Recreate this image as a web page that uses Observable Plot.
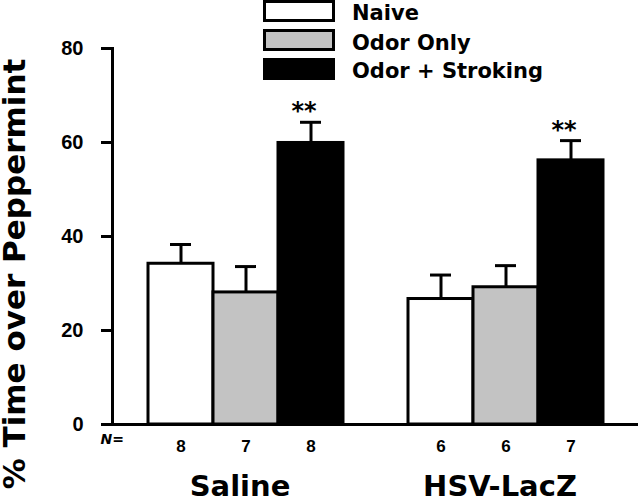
<!DOCTYPE html>
<html>
<head>
<meta charset="utf-8">
<script src="https://cdn.jsdelivr.net/npm/d3@7"></script>
<script src="https://cdn.jsdelivr.net/npm/@observablehq/plot@0.6"></script>
<style>
  body { margin: 0; background: white; }
  #wrap { position: relative; width: 640px; height: 498px; overflow: hidden; }
  #wrap svg { position: absolute; left: 0; top: 0; }
  .box { position: absolute; box-sizing: border-box; border: 3px solid black; width: 72px; height: 22px; }
  .lt { position: absolute; left: 352px; font: bold 21px "DejaVu Sans"; line-height: 22px; white-space: nowrap; color: black; }
  #ylab { position: absolute; left: 14px; top: 274px; font: bold 31px "DejaVu Sans"; white-space: nowrap; line-height: 24px;
          transform: translate(-50%, -50%) rotate(-90deg); color: black; }
</style>
</head>
<body>
<div id="wrap"></div>
<script>
const groups = ["Saline", "HSV-LacZ"];
const conditions = ["Naive", "Odor Only", "Odor + Stroking"];
const salineMean = [34.2, 28.1, 59.9];
const salineErr = [4.1, 5.5, 4.4];
const hsvMean = [26.7, 29.2, 56.2];
const hsvErr = [5.1, 4.6, 4.2];
const salineN = [8, 7, 8];
const hsvN = [6, 6, 7];
const salineSig = ["", "", "**"];
const hsvSig = ["", "", "**"];
const yTicks = [0, 20, 40, 60, 80];
const fills = ["white", "#c3c3c3", "black"];
const yTitle = "% Time over Peppermint";
const nLabel = "N=";

const means = [salineMean, hsvMean], errs = [salineErr, hsvErr], ns = [salineN, hsvN], sigs = [salineSig, hsvSig];
const data = groups.flatMap((g, gi) => conditions.map((c, ci) => ({
  group: g, cond: c, key: g + "|" + c,
  mean: means[gi][ci], err: errs[gi][ci], n: ns[gi][ci], sig: sigs[gi][ci]
})));
const xDomain = [
  ...conditions.map(c => groups[0] + "|" + c),
  "gap",
  ...conditions.map(c => groups[1] + "|" + c)
];
const DJ = "DejaVu Sans";

const chart = Plot.plot({
  width: 640, height: 498,
  marginLeft: 112, marginRight: 2, marginTop: 48, marginBottom: 74,
  style: { fontFamily: "Liberation Sans, Arial, sans-serif", background: "transparent", overflow: "visible" },
  x: { domain: xDomain, paddingInner: 0, paddingOuter: 0.5, axis: null },
  y: { domain: [0, 80], axis: null },
  color: { domain: conditions, range: fills },
  marks: [
    Plot.barY(data, { x: "key", y: "mean", fill: "cond", stroke: "black", strokeWidth: 3 }),
    Plot.ruleX(data, { x: "key", y1: "mean", y2: d => d.mean + d.err, stroke: "black", strokeWidth: 3 }),
    Plot.tickY(data, { x: "key", y: d => d.mean + d.err, stroke: "black", strokeWidth: 3, insetLeft: 22, insetRight: 22 }),
    Plot.ruleY([0], { stroke: "black", strokeWidth: 3 }),
    Plot.frame({ anchor: "left", stroke: "black", strokeWidth: 3 }),
    Plot.axisY({ ticks: yTicks, tickSize: 11, tickPadding: 18, fontSize: 20, fontWeight: "bold", strokeWidth: 3, label: null, fill: "black" }),
    Plot.text(data.filter(d => d.sig), { x: "key", y: d => d.mean + d.err, text: "sig", lineAnchor: "bottom", dy: -3, dx: -7, fontSize: 24, fontWeight: "bold", fontFamily: DJ }),
    Plot.text(data, { x: "key", y: () => 0, text: d => String(d.n), dy: 22, fontSize: 17, fontWeight: "bold" }),
    Plot.text([nLabel], { frameAnchor: "bottom-left", text: d => d, textAnchor: "start", dx: -12, dy: 19, fontSize: 14, fontWeight: "bold", fontStyle: "italic", fontFamily: DJ }),
    Plot.text(groups, { x: g => g + "|" + conditions[1], y: () => 0, text: d => d, lineAnchor: "bottom", dy: 71, dx: -6, fontSize: 29, fontWeight: "bold", fontFamily: DJ })
  ]
});

const wrap = document.getElementById("wrap");
wrap.appendChild(chart);

// legend
const boxTops = [0, 28.5, 58];
const textTops = [2, 31.5, 60];
conditions.forEach((c, i) => {
  const b = document.createElement("div");
  b.className = "box";
  b.style.left = "263px";
  b.style.top = boxTops[i] + "px";
  b.style.background = fills[i];
  wrap.appendChild(b);
  const t = document.createElement("div");
  t.className = "lt";
  t.style.top = textTops[i] + "px";
  t.textContent = c;
  wrap.appendChild(t);
});
const yl = document.createElement("div");
yl.id = "ylab";
yl.textContent = yTitle;
wrap.appendChild(yl);
</script>
</body>
</html>
